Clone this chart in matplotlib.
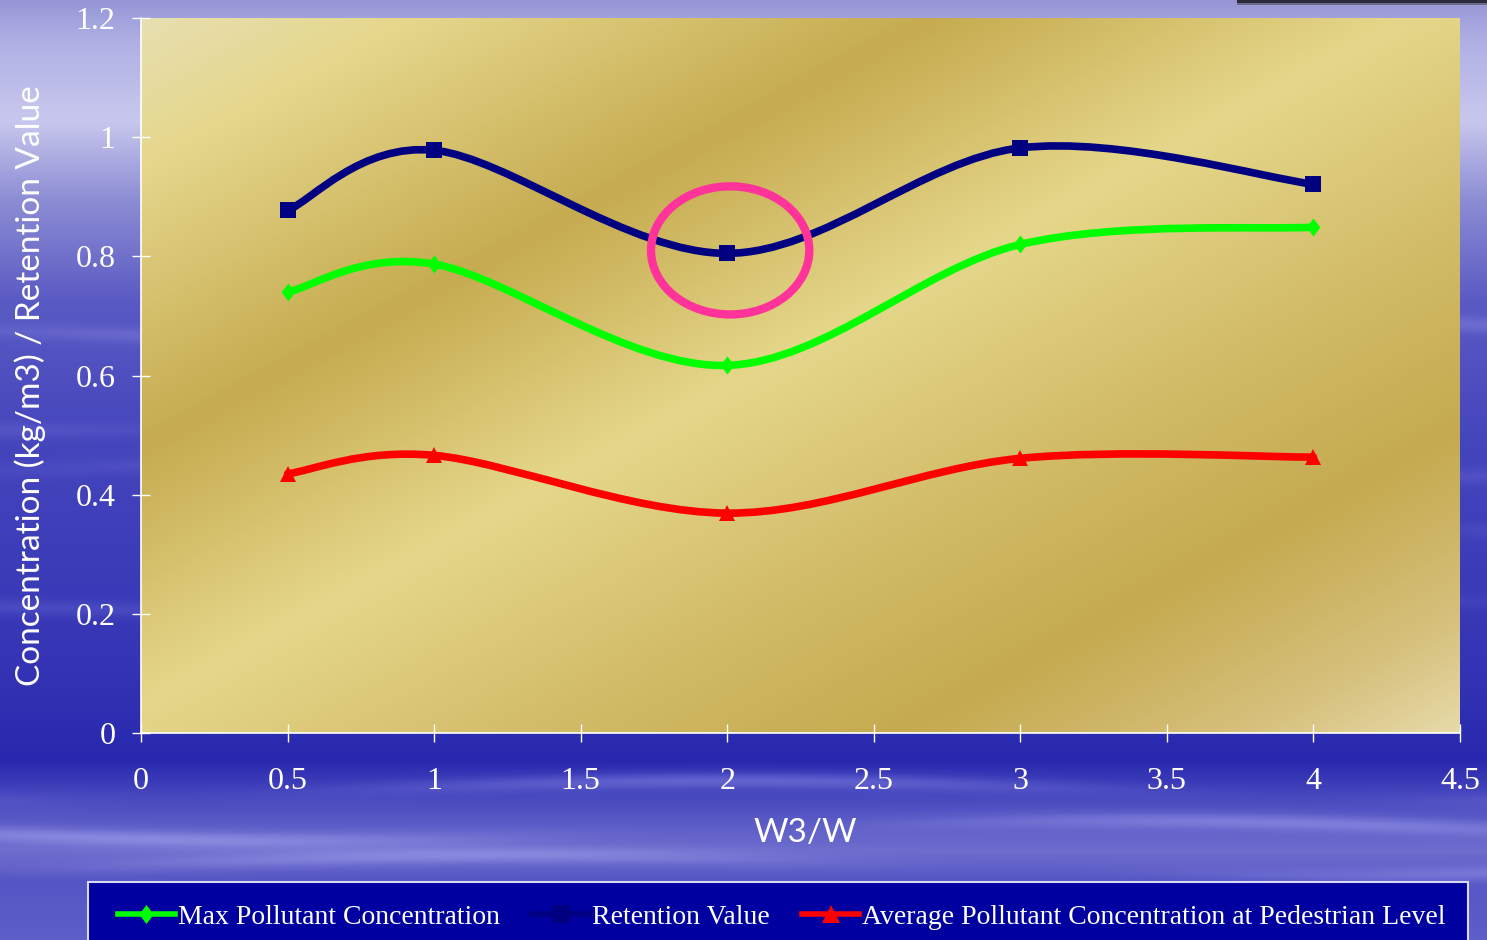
import numpy as np
import matplotlib
matplotlib.use("Agg")
import matplotlib.pyplot as plt
from matplotlib.path import Path
from matplotlib.patches import PathPatch, Ellipse, Rectangle
from matplotlib.colors import LinearSegmentedColormap

# ---------------- data ----------------
x_vals = [0.5, 1, 2, 3, 4]
max_conc = [0.740, 0.787, 0.617, 0.820, 0.849]
retention = [0.877, 0.978, 0.805, 0.982, 0.921]
avg_conc = [0.435, 0.466, 0.369, 0.461, 0.463]
series_names = ["Max Pollutant Concentration", "Retention Value",
                "Average Pollutant Concentration at Pedestrian Level"]
x_ticks = [0, 0.5, 1, 1.5, 2, 2.5, 3, 3.5, 4, 4.5]
y_ticks = [0, 0.2, 0.4, 0.6, 0.8, 1, 1.2]
x_label = "W3/W"
y_label = "Concentration (kg/m3) / Retention Value"

W, H, DPI = 1487, 940, 100
fig = plt.figure(figsize=(W / DPI, H / DPI), dpi=DPI)

# ---------------- background (sky) ----------------
yy = np.arange(H)[:, None].astype(float)
xx = np.arange(W)[None, :].astype(float)
stops_y = [0, 40, 120, 200, 300, 450, 600, 700, 760, 800, 850, 880, 940]
stops_c = [(150, 150, 215), (175, 175, 228), (200, 200, 238), (140, 140, 212),
           (90, 90, 196), (68, 68, 188), (58, 58, 184), (48, 48, 178),
           (40, 40, 175), (75, 75, 192), (110, 110, 206), (85, 85, 196),
           (95, 95, 202)]
bg = np.zeros((H, W, 3))
for k in range(3):
    col = np.interp(np.arange(H), stops_y, [c[k] for c in stops_c])
    bg[:, :, k] = col[:, None]
# soft horizontal streaks
streak = np.zeros((H, W))
for cy, amp, ph in [(330, 22, 0.0), (420, 18, 1.3), (520, 20, 2.1), (600, 16, 0.7),
                    (790, 40, 1.9), (830, 35, 0.4), (865, 30, 2.7), (470, 14, 3.1)]:
    prof = np.exp(-((yy - cy - 10 * np.sin(xx / 260 + ph)) / 8.0) ** 2)
    streak += amp * prof * (0.5 + 0.5 * np.sin(xx / 180 + ph * 2))
bg[:, :, 0] += streak
bg[:, :, 1] += streak
bg[:, :, 2] += streak * 0.6
bg = np.clip(bg / 255.0, 0, 1)
bg_ax = fig.add_axes([0, 0, 1, 1], zorder=0)
bg_ax.imshow(bg, aspect="auto", extent=[0, W, H, 0], interpolation="bilinear")
bg_ax.set_xlim(0, W)
bg_ax.set_ylim(H, 0)
bg_ax.axis("off")
# dark bar at top right
bg_ax.add_patch(Rectangle((1237, 0), 250, 3, facecolor="#2a2a3a", edgecolor="none"))
bg_ax.add_patch(Rectangle((1237, 3), 250, 2, facecolor="#6a6a8a", edgecolor="none"))

# ---------------- main axes ----------------
left, right, top, bottom = 141, 1460, 18, 733
ax = fig.add_axes([left / W, 1 - bottom / H, (right - left) / W, (bottom - top) / H], zorder=2)
ax.set_xlim(0, 4.5)
ax.set_ylim(0, 1.2)
ax.patch.set_alpha(0)

# gold gradient plot area
gold = LinearSegmentedColormap.from_list("gold", [
    (0.00, "#E7DFB0"), (0.10, "#E5D78C"), (0.30, "#C6AB50"), (0.48, "#E5D78A"),
    (0.64, "#D3BD6A"), (0.79, "#C5AA4F"), (0.92, "#D6C07C"), (1.00, "#E6DAA8")])
n = 400
fx = np.linspace(0, 1, n)[None, :]
fy = np.linspace(0, 1, n)[:, None]
grad = (fx + fy) / 2.0  # fy measured from top
ax.imshow(grad, cmap=gold, extent=[0, 1, 0, 1], transform=ax.transAxes,
          aspect="auto", origin="upper", zorder=0, interpolation="bilinear")


def smooth_path(xs, ys):
    pts = np.column_stack([xs, ys]).astype(float)
    verts = [pts[0]]
    codes = [Path.MOVETO]
    m = len(pts)
    for i in range(m - 1):
        p0 = pts[max(i - 1, 0)]
        p1 = pts[i]
        p2 = pts[i + 1]
        p3 = pts[min(i + 2, m - 1)]
        c1 = p1 + (p2 - p0) / 6.0
        c2 = p2 - (p3 - p1) / 6.0
        verts += [c1, c2, p2]
        codes += [Path.CURVE4] * 3
    return Path(np.array(verts), codes)


diamond = [(0, 1), (0.76, 0), (0, -1), (-0.76, 0), (0, 1)]
styles = [
    (max_conc, "#00FF00", diamond, 13),
    (retention, "#000080", "s", 12),
    (avg_conc, "#FF0000", "^", 12),
]
handles = []
for (vals, col, mk, ms), name in zip(styles, series_names):
    ax.add_patch(PathPatch(smooth_path(x_vals, vals), facecolor="none", edgecolor=col,
                           lw=5.5, capstyle="round", joinstyle="round", zorder=3))
    ax.plot(x_vals, vals, linestyle="none", marker=mk, ms=ms, color=col,
            markeredgewidth=0, zorder=4)
    h, = ax.plot([], [], color=col, lw=4, marker=mk, ms=ms * 1.05, markeredgewidth=0, label=name)
    handles.append(h)

# highlight ellipse
ax.add_patch(Ellipse((2.01, 0.81), 0.54, 0.215, facecolor="none", edgecolor="#FF3399",
                     lw=6, zorder=5))

# spines / ticks
for s in ["top", "right"]:
    ax.spines[s].set_visible(False)
for s in ["left", "bottom"]:
    ax.spines[s].set_color("white")
    ax.spines[s].set_linewidth(1.2)
ax.set_xticks(x_ticks)
ax.set_yticks(y_ticks)
ax.set_xticklabels([f"{v:g}" for v in x_ticks])
ax.set_yticklabels([f"{v:g}" for v in y_ticks])
ax.tick_params(axis="both", direction="inout", length=13, width=1, colors="white",
               labelsize=23)
ax.tick_params(axis="x", pad=18)
ax.tick_params(axis="y", pad=12)
for lab in ax.get_xticklabels() + ax.get_yticklabels():
    lab.set_fontfamily("Liberation Serif")
    lab.set_color("white")

fig.text(30 / W, 1 - 386 / H, y_label, rotation=90, ha="center", va="center",
         color="white", fontsize=24, family="Lato")
fig.text(805 / W, 1 - 833 / H, x_label, ha="center", va="center",
         color="white", fontsize=24, family="Lato")

# legend box
bg_ax.add_patch(Rectangle((88, 882), 1380, 80, facecolor="#0000A0", edgecolor="#D8D8F4",
                          lw=1.5, zorder=3))
leg = fig.legend(handles=handles, loc="center left", bbox_to_anchor=(118 / W, 1 - 917 / H),
                 ncol=3, frameon=False, prop={"family": "Liberation Serif", "size": 20},
                 handlelength=2.05, handletextpad=0.12, columnspacing=1.15,
                 borderaxespad=0, borderpad=0)
leg.set_zorder(5)
for t in leg.get_texts():
    t.set_color("white")

fig.savefig("out.png", dpi=DPI)
